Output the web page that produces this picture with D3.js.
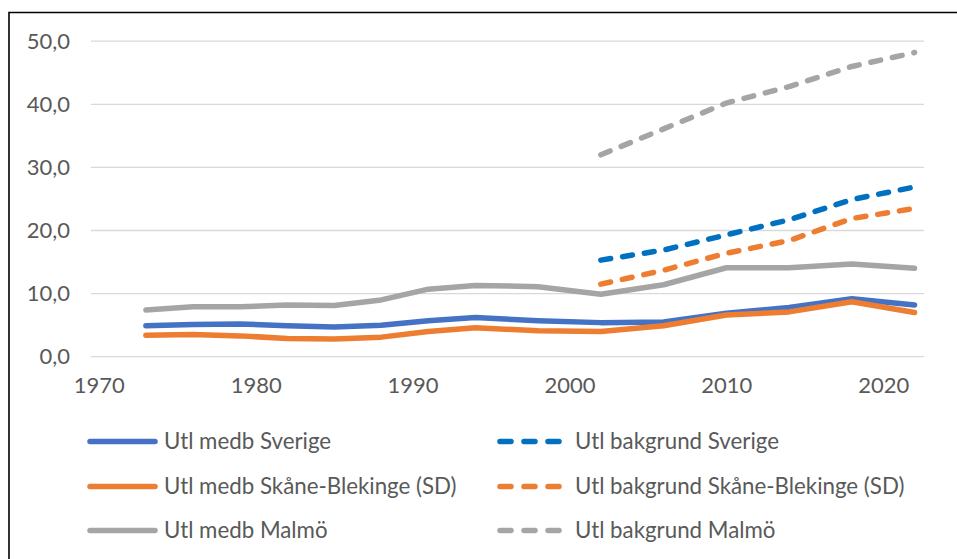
<!DOCTYPE html>
<html>
<head>
<meta charset="utf-8">
<script src="https://cdn.jsdelivr.net/npm/d3@7.9.0/dist/d3.min.js"></script>
<style>
  body { margin: 0; background: #fff; }
  svg { display: block; font-family: Lato, "Open Sans", sans-serif; }
</style>
</head>
<body>
<svg id="chart" width="957" height="559"></svg>
<script>
// election years
const years = [1973, 1976, 1979, 1982, 1985, 1988, 1991, 1994, 1998, 2002, 2006, 2010, 2014, 2018, 2022];
const bakgrundYears = [2002, 2006, 2010, 2014, 2018, 2022];

// Utl medb = foreign-born share (%)
const medbSverige = [4.9, 5.1, 5.2, 4.9, 4.7, 5.0, 5.7, 6.2, 5.7, 5.4, 5.5, 6.9, 7.8, 9.2, 8.2];
const medbSkane   = [3.4, 3.5, 3.3, 2.9, 2.8, 3.1, 4.0, 4.6, 4.1, 4.0, 4.9, 6.6, 7.1, 8.7, 7.0];
const medbMalmo   = [7.4, 7.9, 7.9, 8.2, 8.1, 9.0, 10.7, 11.3, 11.1, 9.9, 11.4, 14.1, 14.1, 14.7, 14.0];

// Utl bakgrund = foreign background share (%), from 2002
const bakgrundSverige = [15.3, 16.9, 19.3, 21.7, 24.9, 26.9];
const bakgrundSkane   = [11.5, 13.7, 16.4, 18.4, 21.9, 23.5];
const bakgrundMalmo   = [32.0, 36.1, 40.2, 42.8, 46.0, 48.2];

const yTicks = [0, 10, 20, 30, 40, 50];
const xTicks = [1970, 1980, 1990, 2000, 2010, 2020];

const series = [
  { name: 'Utl medb Sverige', x: years, y: medbSverige, color: '#4472C4', dashed: false },
  { name: 'Utl bakgrund Sverige', x: bakgrundYears, y: bakgrundSverige, color: '#0070C0', dashed: true },
  { name: 'Utl medb Skåne-Blekinge (SD)', x: years, y: medbSkane, color: '#ED7D31', dashed: false },
  { name: 'Utl bakgrund Skåne-Blekinge (SD)', x: bakgrundYears, y: bakgrundSkane, color: '#ED7D31', dashed: true },
  { name: 'Utl medb Malmö', x: years, y: medbMalmo, color: '#A5A5A5', dashed: false },
  { name: 'Utl bakgrund Malmö', x: bakgrundYears, y: bakgrundMalmo, color: '#A5A5A5', dashed: true }
];

const svg = d3.select('#chart');
const textColor = '#595959';
const lineW = 5.5;
const dash = '10,12';

// outer frame (only top and left edges are inside the picture)
svg.append('path')
  .attr('d', 'M9,570 L9,12.5 L970,12.5')
  .attr('fill', 'none')
  .attr('stroke', '#000')
  .attr('stroke-width', 1.6);

let x = d3.scaleLinear().domain([1969.5, 2022.6]).range([91, 924]);
let y = d3.scaleLinear().domain([0, 50]).range([356.7, 41.2]);

// gridlines
svg.append('g')
  .selectAll('line')
  .data(yTicks)
  .join('line')
  .attr('x1', x.range()[0])
  .attr('x2', x.range()[1])
  .attr('y1', (d) => y(d))
  .attr('y2', (d) => y(d))
  .attr('stroke', '#D9D9D9')
  .attr('stroke-width', 1.3);

// y axis labels
let fmt = (d) => d3.format('.1f')(d).replace('.', ',');
let yAxis = svg.append('g')
  .attr('transform', 'translate(81,0)')
  .call(d3.axisLeft(y).tickValues(yTicks).tickFormat(fmt).tickSize(0).tickPadding(11));
yAxis.select('.domain').remove();
yAxis.selectAll('text')
  .attr('fill', textColor)
  .style('font-size', '22px')
  .style('font-family', 'Lato, sans-serif');

// x axis labels
let xAxis = svg.append('g')
  .attr('transform', `translate(0,${y(0)})`)
  .call(d3.axisBottom(x).tickValues(xTicks).tickFormat(d3.format('d')).tickSize(0).tickPadding(21));
xAxis.select('.domain').remove();
xAxis.selectAll('text')
  .attr('fill', textColor)
  .style('font-size', '22px')
  .style('font-family', 'Lato, sans-serif');

// lines
let line = d3.line()
  .x((d) => x(d[0]))
  .y((d) => y(d[1]));

series.forEach((s) => {
  svg.append('path')
    .datum(d3.zip(s.x, s.y))
    .attr('d', line)
    .attr('fill', 'none')
    .attr('stroke', s.color)
    .attr('stroke-width', lineW)
    .attr('stroke-linecap', 'round')
    .attr('stroke-linejoin', 'round')
    .attr('stroke-dasharray', s.dashed ? dash : null);
});

// legend, two columns
let legendRows = [441.5, 486.5, 530.5];
let legendCols = [
  { x1: 87, x2: 158, tx: 164 },
  { x1: 497, x2: 562, tx: 575 }
];

series.forEach((s, i) => {
  let col = legendCols[i % 2];
  let rowY = legendRows[Math.floor(i / 2)];
  let g = svg.append('g');
  g.append('line')
    .attr('x1', col.x1 + 3)
    .attr('x2', col.x2 - 3)
    .attr('y1', rowY)
    .attr('y2', rowY)
    .attr('stroke', s.color)
    .attr('stroke-width', lineW)
    .attr('stroke-linecap', 'round')
    .attr('stroke-dasharray', s.dashed ? '11,13' : null);
  g.append('text')
    .attr('x', col.tx)
    .attr('y', rowY)
    .attr('dy', '0.35em')
    .attr('fill', textColor)
    .style('font-size', '22.3px')
    .text(s.name);
});
</script>
</body>
</html>
